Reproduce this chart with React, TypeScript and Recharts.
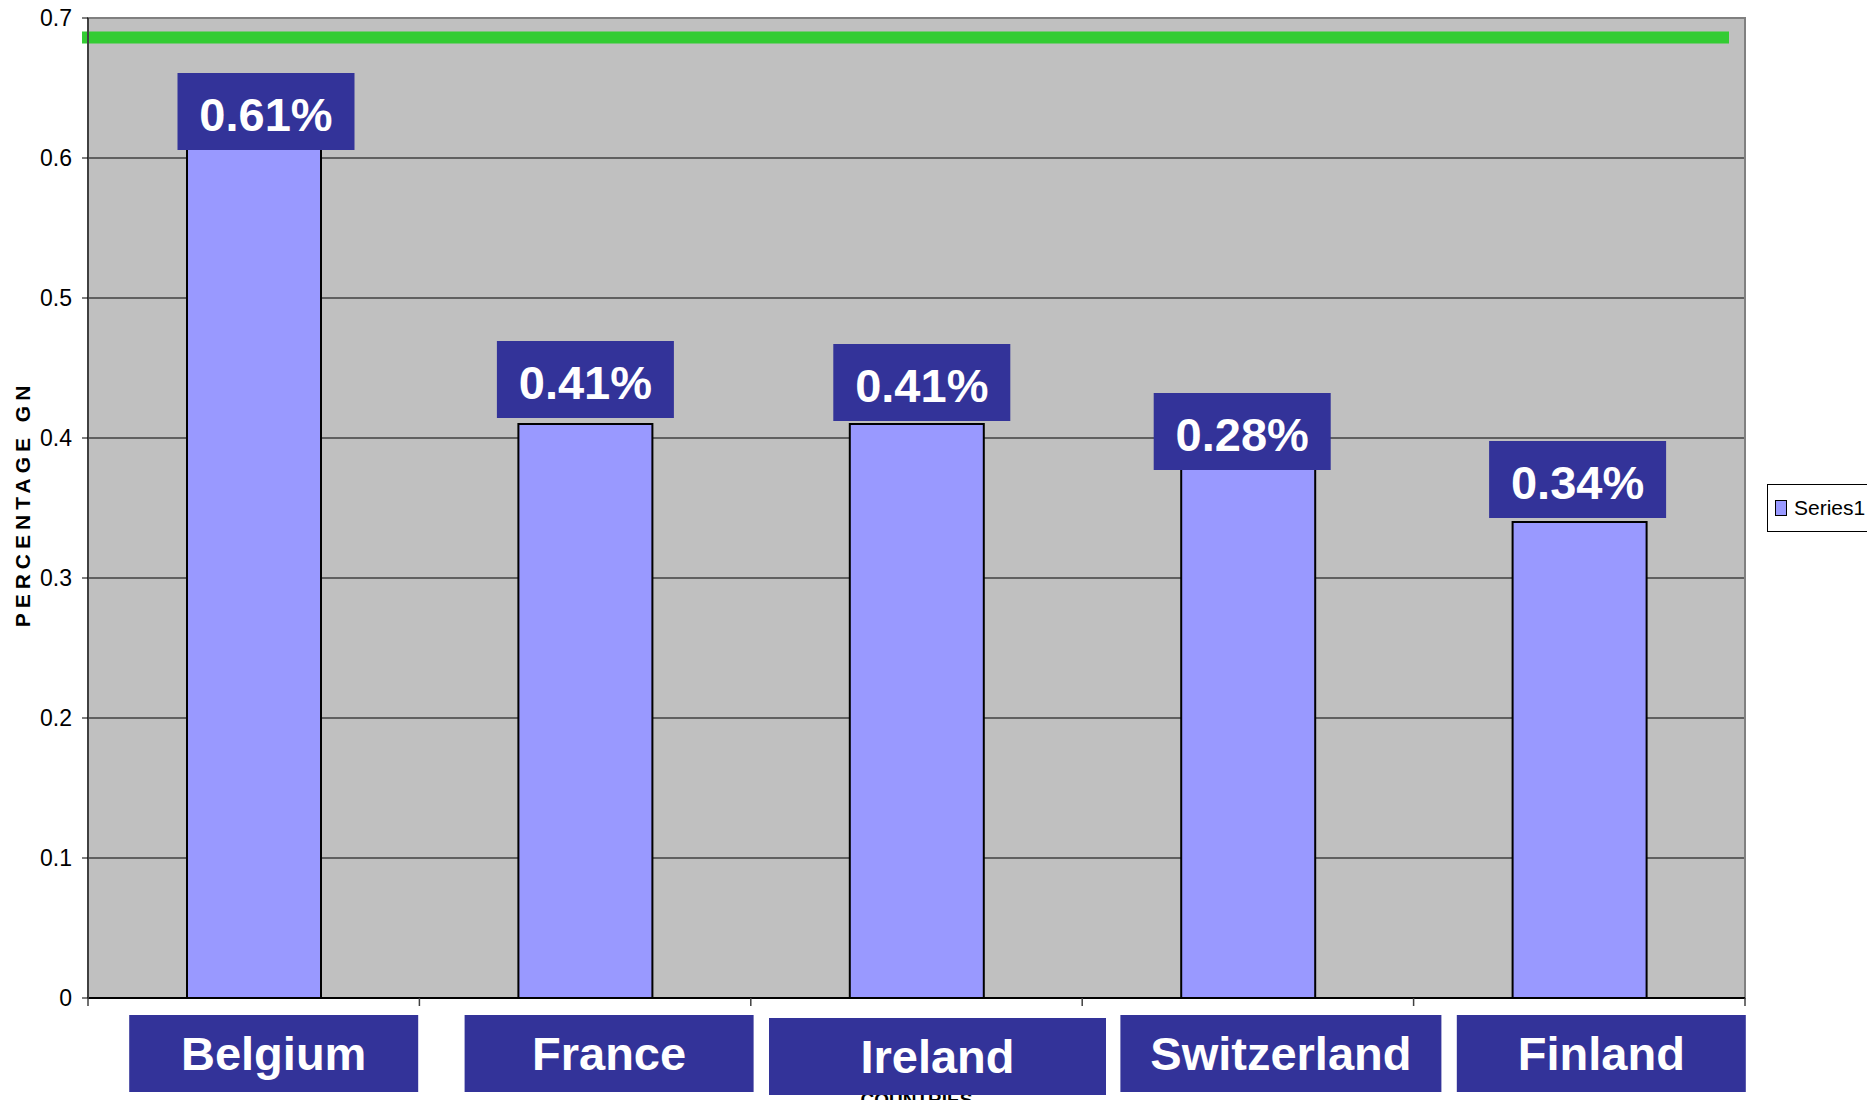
import { BarChart, Bar, XAxis, YAxis, CartesianGrid, Legend, LabelList, ReferenceLine, ReferenceArea } from 'recharts';

const COUNTRIES = ['Belgium', 'France', 'Ireland', 'Switzerland', 'Finland'];
const VALUES = [0.61, 0.41, 0.41, 0.38, 0.34];
const VALUE_LABELS = ['0.61%', '0.41%', '0.41%', '0.28%', '0.34%'];
const Y_TICKS = [0, 0.1, 0.2, 0.3, 0.4, 0.5, 0.6, 0.7];
const TARGET = 0.686;

const data = COUNTRIES.map((name, i) => ({ name, value: VALUES[i], label: VALUE_LABELS[i] }));

const W = 1867;
const H = 1100;
const MARGIN = { top: 18, right: 122, bottom: 0, left: 0 };
const Y_AXIS_W = 88;
const X_AXIS_H = 102;
const BAND = (W - MARGIN.left - MARGIN.right - Y_AXIS_W) / COUNTRIES.length;

const NAVY = '#333399';
const BOLD = '"Liberation Sans", Arial, sans-serif';
const NARROW = '"Liberation Sans Narrow", "Arial Narrow", "Liberation Sans", Arial, sans-serif';

// hand-placed look of the excel boxes (offsets from the default spot)
const LABEL_NUDGE = [
  { dx: 12, dy: 10 },
  { dx: 0, dy: -2 },
  { dx: 5, dy: 1 },
  { dx: -6, dy: 8 },
  { dx: -2, dy: 0 },
];
const TICK_BOX = [
  { w: 289, dx: 20, dy: 0 },
  { w: 289, dx: 24, dy: 0 },
  { w: 337, dx: 21, dy: 3 },
  { w: 321, dx: 33, dy: 0 },
  { w: 289, dx: 22, dy: 0 },
];

function ValueBox(props: any) {
  const { x, y, width, index, value } = props;
  const n = LABEL_NUDGE[index] || { dx: 0, dy: 0 };
  const bw = 177;
  const bh = 77;
  const cx = x + width / 2 + n.dx;
  const top = y - 81 + n.dy;
  return (
    <g>
      <rect x={cx - bw / 2} y={top} width={bw} height={bh} fill={NAVY} />
      <text x={cx} y={top + 58} textAnchor="middle" fill="#fff" fontFamily={BOLD} fontWeight="bold" fontSize={47}>
        {value}
      </text>
    </g>
  );
}

function CountryTick(props: any) {
  const { x, y, payload, index } = props;
  const b = TICK_BOX[index] || { w: 289, dx: 0, dy: 0 };
  const cx = x + b.dx;
  const top = y + 17 + b.dy;
  const left = x - BAND / 2;
  return (
    <g>
      <line x1={left} y1={y} x2={left} y2={y + 8} stroke="#404040" strokeWidth={1.5} />
      {index === COUNTRIES.length - 1 && (
        <line x1={x + BAND / 2} y1={y} x2={x + BAND / 2} y2={y + 8} stroke="#404040" strokeWidth={1.5} />
      )}
      <rect x={cx - b.w / 2} y={top} width={b.w} height={77} fill={NAVY} />
      <text x={cx} y={top + 55} textAnchor="middle" fill="#fff" fontFamily={BOLD} fontWeight="bold" fontSize={47}>
        {payload.value}
      </text>
    </g>
  );
}

function YTitle(props: any) {
  const vb = props.viewBox || { x: 0, y: 0, width: 0, height: 0 };
  const cx = 22;
  const cy = vb.y + vb.height / 2 - 4;
  return (
    <text
      x={cx}
      y={cy}
      transform={`rotate(-90 ${cx} ${cy})`}
      textAnchor="middle"
      dominantBaseline="central"
      fontFamily={BOLD}
      fontWeight="bold"
      fontSize={21}
      letterSpacing={5}
      fill="#000"
    >
      PERCENTAGE GN
    </text>
  );
}

function LegendBox(props: any) {
  const item = (props.payload && props.payload[0]) || { value: 'Series1' };
  return (
    <div
      style={{
        boxSizing: 'border-box',
        width: 101,
        height: 48,
        border: '1px solid #000',
        background: '#fff',
        display: 'flex',
        alignItems: 'center',
        paddingLeft: 7,
      }}
    >
      <span style={{ boxSizing: 'border-box', width: 12, height: 16, background: '#9999FF', border: '1.5px solid #000' }} />
      <span style={{ marginLeft: 7, fontFamily: NARROW, fontSize: 21, color: '#000' }}>{item.value}</span>
    </div>
  );
}

export default function App() {
  return (
    <div style={{ position: 'absolute', left: 0, top: 0, width: W, height: H, overflow: 'hidden', background: '#fff' }}>
      <BarChart width={W} height={H} data={data} margin={MARGIN}>
        <CartesianGrid vertical={false} stroke="#000" strokeWidth={1} fill="#C0C0C0" />
        <ReferenceArea y1={0} y2={0.7} fill="none" stroke="#808080" strokeWidth={2} />
        <text x={W - MARGIN.right - (W - MARGIN.right - Y_AXIS_W) / 2} y={1106} textAnchor="middle" fontFamily={BOLD} fontWeight="bold" fontSize={19}>
          COUNTRIES
        </text>
        <XAxis
          dataKey="name"
          height={X_AXIS_H}
          tickSize={0}
          tickMargin={0}
          tickLine={false}
          axisLine={{ stroke: '#000', strokeWidth: 2 }}
          tick={<CountryTick />}
          interval={0}
        />
        <YAxis
          width={Y_AXIS_W}
          domain={[0, 0.7]}
          ticks={Y_TICKS}
          tickSize={6}
          tickMargin={10}
          tickLine={{ stroke: '#000' }}
          axisLine={{ stroke: '#404040', strokeWidth: 2 }}
          tick={{ fill: '#000', fontSize: 23, fontFamily: NARROW }}
          label={{ content: <YTitle /> }}
          allowDataOverflow
        />
        <Bar dataKey="value" name="Series1" fill="#9999FF" stroke="#000" strokeWidth={2} barSize={134} isAnimationActive={false}>
          <LabelList dataKey="label" content={<ValueBox />} />
        </Bar>
        <ReferenceLine
          y={TARGET}
          stroke="#33CC33"
          strokeWidth={12}
          shape={(p: any) => (
            <line x1={p.x1 - 6} y1={p.y1} x2={p.x2 - 16} y2={p.y2} stroke="#33CC33" strokeWidth={12} />
          )}
        />
        <Legend
          layout="vertical"
          align="center"
          verticalAlign="middle"
          wrapperStyle={{ left: 1767, top: 484, width: 101 }}
          content={<LegendBox />}
        />
      </BarChart>
    </div>
  );
}
